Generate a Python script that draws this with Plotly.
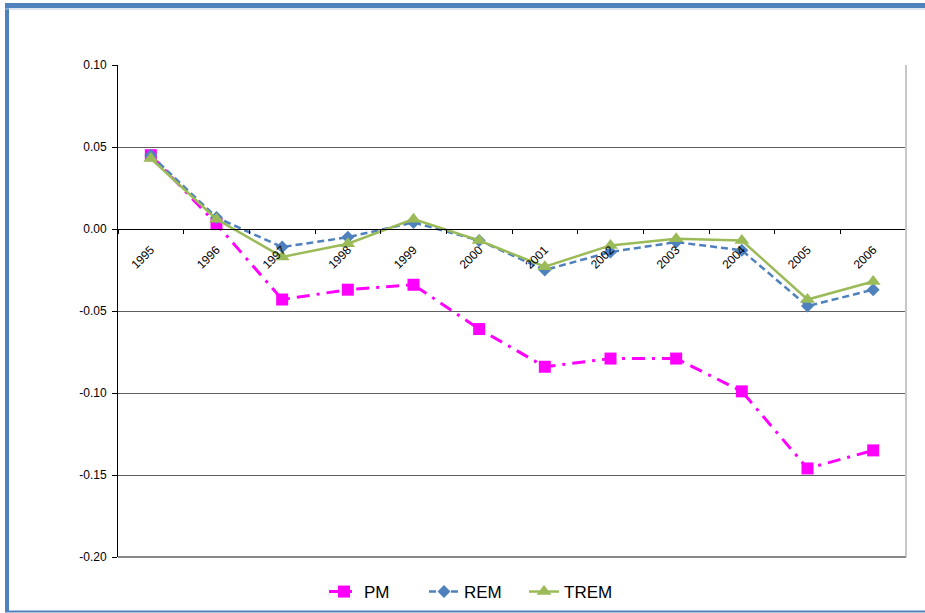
import plotly.graph_objects as go

# ---- data -------------------------------------------------------------
years = ["1995", "1996", "1997", "1998", "1999", "2000",
         "2001", "2002", "2003", "2004", "2005", "2006"]

pm = [0.045, 0.003, -0.043, -0.037, -0.034, -0.061,
      -0.084, -0.079, -0.079, -0.099, -0.146, -0.135]
rem = [0.045, 0.007, -0.011, -0.005, 0.004, -0.007,
       -0.025, -0.014, -0.008, -0.013, -0.047, -0.037]
trem = [0.043, 0.006, -0.017, -0.009, 0.006, -0.007,
        -0.023, -0.010, -0.006, -0.007, -0.043, -0.032]

y_ticks = [0.10, 0.05, 0.00, -0.05, -0.10, -0.15, -0.20]
y_tick_labels = ["0.10", "0.05", "0.00", "-0.05", "-0.10", "-0.15", "-0.20"]

# ---- canvas geometry --------------------------------------------------
W, H = 925, 613
ML, MR, MT, MB = 118, 19, 65, 56
PW, PH = W - ML - MR, H - MT - MB


def px_x(p):
    return (p - ML) / PW


def px_y(p):
    return (H - MB - p) / PH


FONT = "Liberation Sans, Arial, sans-serif"
FRAME = "#4F81BD"

fig = go.Figure()

fig.add_trace(go.Scatter(
    x=years, y=pm, name="PM", mode="lines+markers",
    line=dict(color="#FF00FF", width=3, dash="13px,7px,3px,7px"),
    marker=dict(symbol="square", size=12, color="#FF00FF"),
))
fig.add_trace(go.Scatter(
    x=years, y=rem, name="REM", mode="lines+markers",
    line=dict(color="#4F81BD", width=2.5, dash="7px,4px"),
    marker=dict(symbol="diamond", size=10, color="#4F81BD"),
))
fig.add_trace(go.Scatter(
    x=years, y=trem, name="TREM", mode="lines+markers",
    line=dict(color="#9BBB59", width=2.5),
    marker=dict(symbol="triangle-up", size=13, color="#9BBB59"),
))

# x axis sits on the zero line of the value axis
zero_pos = (0 - (-0.20)) / (0.10 - (-0.20))

fig.update_layout(
    width=W, height=H,
    margin=dict(l=ML, r=MR, t=MT, b=MB, autoexpand=False),
    paper_bgcolor="white", plot_bgcolor="white",
    font=dict(family=FONT, size=12, color="black"),
    xaxis=dict(
        type="category", range=[-0.5, len(years) - 0.5],
        anchor="free", position=zero_pos,
        showline=True, linecolor="black", linewidth=1.2,
        ticks="outside", tickson="boundaries", ticklen=4,
        tickcolor="black", tickwidth=1,
        tickangle=-45, ticklabelstandoff=8,
        tickfont=dict(size=12, family=FONT),
        showgrid=False, zeroline=False,
    ),
    yaxis=dict(
        range=[-0.20, 0.10],
        tickvals=y_ticks, ticktext=y_tick_labels,
        showline=True, linecolor="black", linewidth=1,
        ticks="outside", ticklen=5, tickcolor="black",
        ticklabelstandoff=3,
        showgrid=True, gridcolor="#5f5f5f", gridwidth=1,
        zeroline=False, tickfont=dict(size=12, family=FONT),
    ),
    legend=dict(
        orientation="h", x=px_x(324), xanchor="left",
        y=px_y(592), yanchor="middle",
        font=dict(size=17, family=FONT),
        itemwidth=30, entrywidth=55, entrywidthmode="pixels",
        bgcolor="rgba(0,0,0,0)",
    ),
    showlegend=True,
)

# plot area right edge and bottom rule
fig.add_shape(type="line", xref="paper", yref="paper",
              x0=1, x1=1, y0=0, y1=1,
              line=dict(color="#c8c8c8", width=2))
fig.add_shape(type="line", xref="paper", yref="paper",
              x0=0, x1=1, y0=0, y1=0,
              line=dict(color="#888888", width=2))

# outer blue frame (left bar, top bar, thin bottom rule)
fig.add_shape(type="rect", xref="paper", yref="paper",
              x0=px_x(5), x1=px_x(9), y0=px_y(612), y1=px_y(3),
              line=dict(width=0), fillcolor=FRAME, layer="above")
fig.add_shape(type="rect", xref="paper", yref="paper",
              x0=px_x(5), x1=px_x(W + 5), y0=px_y(8), y1=px_y(3),
              line=dict(width=0), fillcolor=FRAME, layer="above")
fig.add_shape(type="line", xref="paper", yref="paper",
              x0=px_x(5), x1=px_x(W + 5), y0=px_y(9), y1=px_y(9),
              line=dict(color="#b8c8dc", width=1), layer="above")
fig.add_shape(type="line", xref="paper", yref="paper",
              x0=px_x(5), x1=px_x(W + 5), y0=px_y(611.5), y1=px_y(611.5),
              line=dict(color=FRAME, width=2), layer="above")

fig.write_html("out.html")
